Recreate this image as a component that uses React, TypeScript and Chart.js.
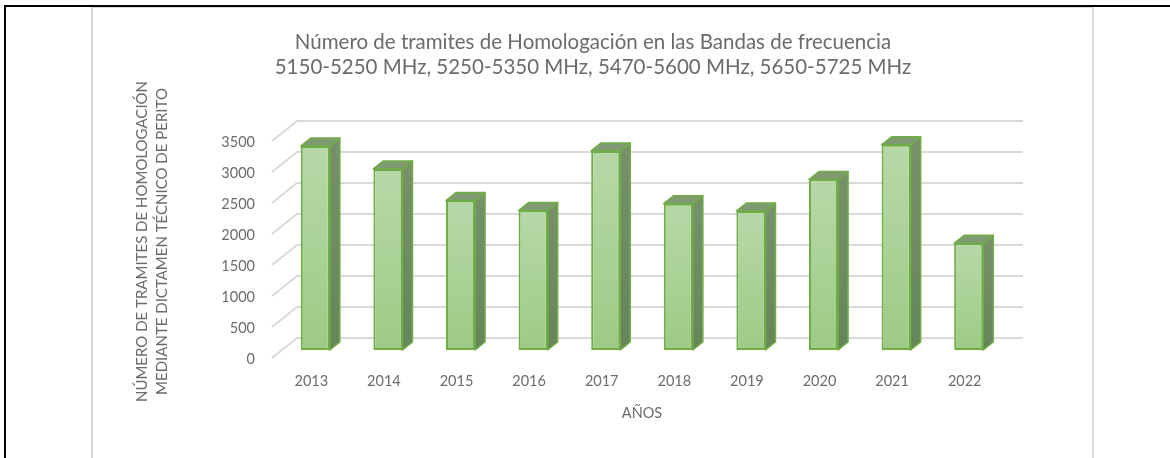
import React, { useEffect, useRef } from 'react';
import { Chart, registerables } from 'chart.js';

Chart.register(...registerables);

// ---- data ----
const years: string[] = ['2013', '2014', '2015', '2016', '2017', '2018', '2019', '2020', '2021', '2022'];
const tramites: number[] = [3290, 2920, 2410, 2250, 3210, 2360, 2240, 2750, 3310, 1720];
const yMin = 0;
const yMax = 3500;
const yStep = 500;
const titleLines: string[] = [
  'Número de tramites de Homologación en las Bandas de frecuencia',
  '5150-5250 MHz, 5250-5350 MHz, 5470-5600 MHz, 5650-5725 MHz',
];
const yTitleLines: string[] = ['NÚMERO DE TRAMITES DE HOMOLOGACIÓN', 'MEDIANTE DICTAMEN TÉCNICO DE PERITO'];
const xTitle = 'AÑOS';

// ---- styling ----
const FONT = 'Lato, "Open Sans", sans-serif';
const TEXT = '#6b6b6b';
const GRID = '#d9d9d9';
const EDGE = '#70ad47';
const DX = 10; // bar depth (x)
const DY = 8; // bar depth (y)

const wallPlugin = {
  id: 'wall3d',
  beforeDatasetsDraw(chart: any) {
    const { ctx, chartArea, scales } = chart;
    const y = scales.y;
    ctx.save();
    ctx.strokeStyle = GRID;
    ctx.lineWidth = 2;
    ctx.lineJoin = 'round';
    for (const t of y.ticks) {
      const py = y.getPixelForValue(t.value);
      ctx.beginPath();
      ctx.moveTo(chartArea.left - 7, py + 8);
      ctx.lineTo(chartArea.left + 18, py - 12);
      ctx.lineTo(chartArea.right + 18, py - 12);
      ctx.stroke();
    }
    ctx.restore();
  },
};

const barFacesPlugin = {
  id: 'barFaces',
  afterDatasetsDraw(chart: any) {
    const { ctx } = chart;
    const meta = chart.getDatasetMeta(0);
    ctx.save();
    ctx.lineJoin = 'round';
    ctx.strokeStyle = EDGE;
    ctx.lineWidth = 1.6;
    meta.data.forEach((bar: any) => {
      const { x, y, base, width } = bar.getProps(['x', 'y', 'base', 'width'], true);
      const x1 = x - width / 2;
      const x2 = x + width / 2;
      // side face
      const gs = ctx.createLinearGradient(0, y, 0, base);
      gs.addColorStop(0, '#76916a');
      gs.addColorStop(1, '#66855a');
      ctx.beginPath();
      ctx.moveTo(x2, y);
      ctx.lineTo(x2 + DX, y - DY);
      ctx.lineTo(x2 + DX, base - DY);
      ctx.lineTo(x2, base);
      ctx.closePath();
      ctx.fillStyle = gs;
      ctx.fill();
      ctx.stroke();
      // top face
      ctx.beginPath();
      ctx.moveTo(x1, y);
      ctx.lineTo(x1 + DX, y - DY);
      ctx.lineTo(x2 + DX, y - DY);
      ctx.lineTo(x2, y);
      ctx.closePath();
      ctx.fillStyle = '#809b72';
      ctx.fill();
      ctx.stroke();
    });
    ctx.restore();
  },
};

function BarChart() {
  const ref = useRef<HTMLCanvasElement | null>(null);
  useEffect(() => {
    if (!ref.current) return;
    const chart = new Chart(ref.current, {
      type: 'bar',
      data: {
        labels: years,
        datasets: [
          {
            data: tramites,
            backgroundColor: (c: any) => {
              const ch = c.chart;
              const ys = ch.scales && ch.scales.y;
              if (!ys || c.raw == null) return '#a9d18e';
              const top = ys.getPixelForValue(c.raw);
              const bot = ys.getPixelForValue(0);
              if (!isFinite(top) || !isFinite(bot)) return '#a9d18e';
              const g = ch.ctx.createLinearGradient(0, top, 0, bot);
              g.addColorStop(0, '#b7d8a8');
              g.addColorStop(1, '#9dcb86');
              return g;
            },
            borderColor: EDGE,
            borderWidth: 2,
            borderSkipped: false,
            categoryPercentage: 1,
            barPercentage: 0.4,
          },
        ],
      },
      options: {
        responsive: false,
        animation: false,
        layout: { padding: { left: 87, right: 86, top: 0, bottom: 0 } },
        plugins: {
          legend: { display: false },
          tooltip: { enabled: false },
          title: {
            display: true,
            text: titleLines,
            color: TEXT,
            font: { family: FONT, size: 20.5, weight: 'normal', lineHeight: '25px' },
            padding: { top: 21.5, bottom: 53.5 },
          },
        },
        scales: {
          x: {
            grid: { display: false, drawTicks: false },
            border: { display: false },
            ticks: {
              color: TEXT,
              font: { family: FONT, size: 14.5 },
              padding: 22.4,
              labelOffset: -4,
              maxRotation: 0,
            },
            title: {
              display: true,
              text: xTitle,
              color: TEXT,
              font: { family: FONT, size: 14.5, lineHeight: 1.2 },
              padding: { top: 0, bottom: 36.3 },
            },
            afterFit: (s: any) => {
              s.height = 108;
            },
          },
          y: {
            min: yMin,
            max: yMax,
            grid: { display: false, drawTicks: false },
            border: { display: false },
            ticks: {
              stepSize: yStep,
              color: TEXT,
              font: { family: FONT, size: 14.5 },
              padding: 24,
              labelOffset: 9,
              callback: (v: any) => String(v),
            },
            title: {
              display: true,
              text: yTitleLines,
              color: TEXT,
              font: { family: FONT, size: 15, lineHeight: '20px' },
              padding: { top: -49.3, bottom: 0 },
            },
            afterFit: (s: any) => {
              s.width = 98;
            },
          },
        },
      },
      plugins: [wallPlugin, barFacesPlugin],
    } as any);
    return () => chart.destroy();
  }, []);
  return (
    <canvas
      ref={ref}
      width={997}
      height={450}
      style={{ position: 'absolute', left: 94, top: 8, width: 997, height: 450, display: 'block' }}
    />
  );
}

export default function App() {
  return (
    <div
      style={{
        position: 'fixed',
        left: 0,
        top: 0,
        width: 1170,
        height: 458,
        overflow: 'hidden',
        background: '#ffffff',
      }}
    >
      <div
        style={{
          position: 'absolute',
          left: 91,
          top: 6,
          width: 1003,
          height: 480,
          boxSizing: 'border-box',
          border: '2px solid #d9d9d9',
        }}
      />
      <div style={{ position: 'absolute', left: 4, top: 5, width: 1166, height: 2, background: '#000' }} />
      <div style={{ position: 'absolute', left: 4, top: 5, width: 2, height: 453, background: '#000' }} />
      <BarChart />
    </div>
  );
}
